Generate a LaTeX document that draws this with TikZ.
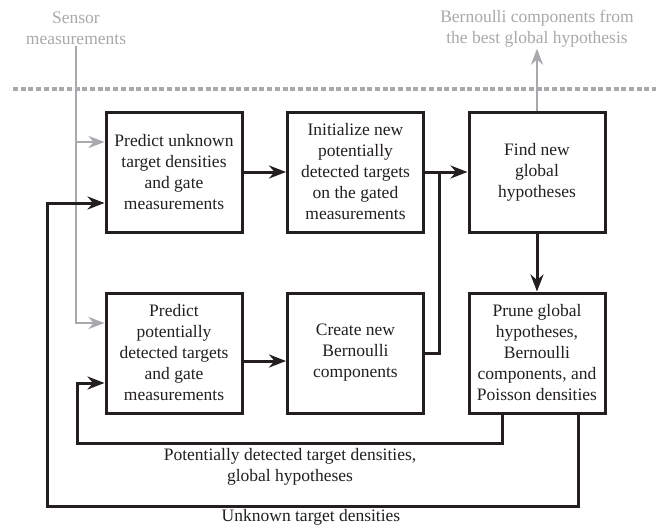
\documentclass[tikz,border=0pt]{standalone}
\usepackage{fontspec}
\setmainfont{Liberation Serif}
\usetikzlibrary{arrows.meta,calc,positioning}
\definecolor{ink}{HTML}{231F20}
\definecolor{muted}{HTML}{A7A9AC}
\newcommand{\boxfont}{\fontsize{17.5}{21}\selectfont}
\tikzset{
 every node/.append style={font=\boxfont,text=ink,align=center},
 stage/.style={draw=ink,line width=3pt,minimum width=136pt,minimum height=120pt,inner sep=2pt},
 word/.style={text=muted,inner sep=1pt},
 flow/.style={-{Stealth[length=17pt,width=13pt]},draw=ink,line width=3pt},
 route/.style={draw=ink,line width=3pt},
 feed/.style={-{Stealth[length=16pt,width=12pt]},draw=muted,line width=2.8pt},
 boundary/.style={draw=muted,line width=4pt,dash pattern=on 5pt off 2.7pt},
}

\begin{document}
\begin{tikzpicture}[x=1pt,y=-1pt]

\useasboundingbox (0,0) rectangle (656,525);
\node[stage] (predU) at (174,172) {Predict unknown\\target densities\\and gate\\measurements};
\node[stage] (init) at (355.5,172) {Initialize new\\potentially\\detected targets\\on the gated\\measurements};
\node[stage] (find) at (537,172) {Find new\\global\\hypotheses};
\node[stage] (predP) at (174,353) {Predict\\potentially\\detected targets\\and gate\\measurements};
\node[stage] (create) at (355.5,353) {Create new\\Bernoulli\\components};
\node[stage] (prune) at (537,353) {Prune global\\hypotheses,\\Bernoulli\\components, and\\Poisson densities};
\node[word] (sensor) at (76,28) {Sensor\\measurements};
\node[word] (best) at (537,29) {Bernoulli components from\\the best global hypothesis};
\node[inner sep=1pt] (pdlabel) at (290,467) {Potentially detected target densities,\\global hypotheses};
\node[inner sep=1pt] (ulabel) at (311,517) {Unknown target densities};

\draw[boundary] (13,89) -- (656,89);
\draw[feed] (sensor.south) |- ([yshift=30pt]predP.west);
\draw[feed] (sensor.south) |- ([yshift=30pt]predU.west);
\draw[feed] (find.north) -- (best.south);

\draw[flow] (predU.east) -- (init.west);
\draw[flow] (init.east) -- (find.west);
\draw[flow] (find.south) -- (prune.north);
\draw[flow] ([yshift=-8pt]predP.east) -- ([yshift=-8pt]create.west);
\coordinate (join) at ($(init.east)!.33!(find.west)$);
\draw[route] (create.east) -| (join);

\coordinate (inner) at (77,443);
\coordinate (outer) at (47,506);
\draw[flow] ([xshift=-35pt]prune.south) |- (inner) |- ([yshift=-30pt]predP.west);
\draw[flow] ([xshift=41pt]prune.south) |- (outer) |- ([yshift=-31pt]predU.west);

\end{tikzpicture}
\end{document}
